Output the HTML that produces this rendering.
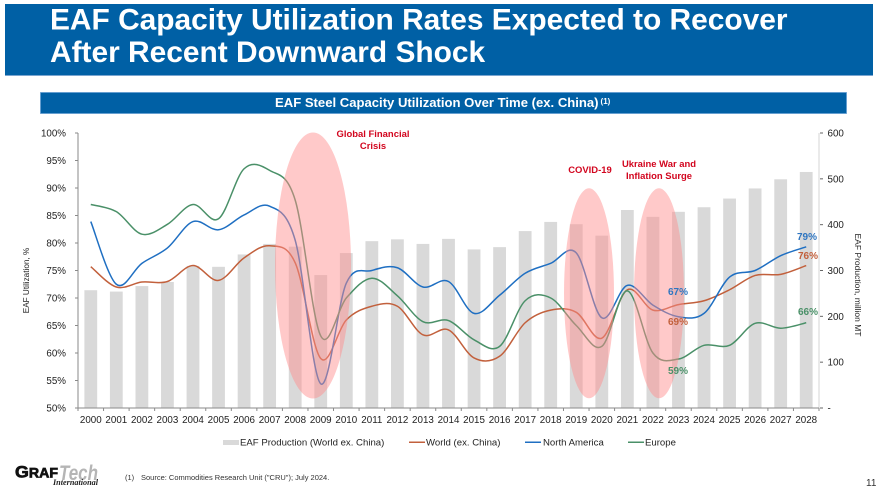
<!DOCTYPE html>
<html lang="en">
<head>
<meta charset="utf-8">
<title>EAF Capacity Utilization Rates</title>
<style>
html,body{margin:0;padding:0;background:#fff;width:876px;height:496px;overflow:hidden}
svg{display:block;font-family:"Liberation Sans",Arial,sans-serif}
</style>
</head>
<body>
<svg id="slide" width="876" height="496" viewBox="0 0 876 496">
  <rect x="5" y="4" width="868" height="71.500" fill="#0060a5"/>
  <rect x="5" y="75" width="868" height="1" fill="#7aa5d0"/>
  <text x="50" y="29.500" font-size="29.9" font-weight="700" fill="#fff">EAF Capacity Utilization Rates Expected to Recover</text>
  <text x="50" y="62" font-size="29.9" font-weight="700" fill="#fff">After Recent Downward Shock</text>
  <rect x="40.500" y="92.500" width="806" height="21" fill="#0060a5" stroke="#5f9bd0" stroke-width="0.8"/>
  <text x="275" y="107" font-size="13.1" font-weight="700" fill="#fff">EAF Steel Capacity Utilization Over Time (ex. China)<tspan font-size="8" dy="-3" dx="2">(1)</tspan></text>

  <g id="bars"></g>
  <g id="lines"></g>
  <g id="axes"></g>

  <ellipse cx="313" cy="265.500" rx="38" ry="133" fill="#ff8f8f" fill-opacity="0.48"/>
  <ellipse cx="589" cy="293.300" rx="25" ry="105" fill="#ff8f8f" fill-opacity="0.48"/>
  <ellipse cx="659" cy="293.300" rx="25" ry="105" fill="#ff8f8f" fill-opacity="0.48"/>

  <g font-size="9.45" font-weight="700" fill="#d2051e" text-anchor="middle">
    <text x="373" y="137">Global Financial</text>
    <text x="373" y="149">Crisis</text>
    <text x="590" y="173">COVID-19</text>
    <text x="659" y="167">Ukraine War and</text>
    <text x="659" y="179">Inflation Surge</text>
  </g>

  <g font-size="10" font-weight="700" text-anchor="middle">
    <text x="807" y="240" fill="#2e75c0">79%</text>
    <text x="808" y="259" fill="#c2603c">76%</text>
    <text x="808" y="315" fill="#4a9068">66%</text>
    <text x="678" y="295" fill="#2e75c0">67%</text>
    <text x="678" y="325" fill="#c2603c">69%</text>
    <text x="678" y="374" fill="#4a9068">59%</text>
  </g>

  <text transform="translate(29,280.500) rotate(-90)" font-size="8.2" text-anchor="middle" fill="#222">EAF Utilization, %</text>
  <text transform="translate(855,285) rotate(90)" font-size="8.5" text-anchor="middle" fill="#222">EAF Production, million MT</text>

  <g font-size="9.6" fill="#222">
    <rect x="223" y="440" width="16" height="5" fill="#d9d9d9"/>
    <text x="240" y="445.500">EAF Production (World ex. China)</text>
    <rect x="409" y="441.500" width="16" height="1.500" fill="#c2603c"/>
    <text x="426" y="445.500">World (ex. China)</text>
    <rect x="525" y="441.500" width="16" height="1.500" fill="#1f6fc2"/>
    <text x="543" y="445.500">North America</text>
    <rect x="628" y="441.500" width="16" height="1.500" fill="#4a9068"/>
    <text x="645" y="445.500">Europe</text>
  </g>

  <g>
    <text x="15" y="477.500" font-size="17" font-weight="700" fill="#111" stroke="#111" stroke-width="0.7" textLength="43" lengthAdjust="spacingAndGlyphs">G<tspan font-size="13.500">RAF</tspan></text>
    <text x="59" y="480" font-size="21" font-style="italic" font-weight="700" fill="#b5b5b5" textLength="39" lengthAdjust="spacingAndGlyphs">Tech</text>
    <text x="53" y="485" font-family="'Liberation Serif',serif" font-size="8" font-style="italic" font-weight="700" fill="#222" textLength="45" lengthAdjust="spacingAndGlyphs">International</text>
  </g>
  <text x="125" y="480" font-size="7.5" fill="#333">(1)</text>
  <text x="141" y="480" font-size="7.5" fill="#333">Source: Commodities Research Unit ("CRU"); July 2024.</text>
  <text x="866" y="486" font-size="10" fill="#333">11</text>
</svg>
<script>
var years = [2000,2001,2002,2003,2004,2005,2006,2007,2008,2009,2010,2011,2012,2013,2014,2015,2016,2017,2018,2019,2020,2021,2022,2023,2024,2025,2026,2027,2028];
var production = [257,254,266,275,310,308,335,358,352,290,338,364,368,358,369,346,351,386,406,401,376,432,417,428,438,457,479,499,515];
var worldValues = [75.7,72,72.9,73,75.9,73.2,77.3,79.5,76.4,59,66,68.5,68.5,63.3,64.2,59.1,59.4,65.5,67.8,67.4,62.7,71.5,67.8,68.8,69.5,71.5,74.1,74.3,75.9];
var northAmericaValues = [83.9,72.5,76.3,79.1,83.9,82.4,85.1,86.7,80.5,54.4,72.7,75,75.5,72,73,67.2,70.5,74.5,76.3,78.2,66.4,72.3,68.7,66.6,67.2,73.8,75,77.7,79.3];
var europeValues = [87,85.7,81.6,83.4,87,84.4,93.5,93.2,87.8,63.1,70,73.6,70.4,65.7,65.9,62.4,61.2,69.5,70,65,61.2,71.3,60,58.9,61.4,61.4,65.4,64.5,65.5];
var leftTicks = [50,55,60,65,70,75,80,85,90,95,100];
var rightTicks = [0,100,200,300,400,500,600];

var NS = 'http://www.w3.org/2000/svg';
var plotLeft = 78, plotRight = 819, plotTop = 133, plotBottom = 408;
var band = (plotRight - plotLeft) / years.length;
function xPos(i){ return plotLeft + band * (i + 0.5); }
function yPct(v){ return plotBottom - (v - 50) / 50 * (plotBottom - plotTop); }
function yProd(v){ return plotBottom - v / 600 * (plotBottom - plotTop); }
function make(tag, attrs, parent){
  var el = document.createElementNS(NS, tag);
  for (var k in attrs) el.setAttribute(k, attrs[k]);
  parent.appendChild(el);
  return el;
}
var barsG = document.getElementById('bars');
var linesG = document.getElementById('lines');
var axesG = document.getElementById('axes');

production.forEach(function(v, i){
  var r = make('rect', {x: xPos(i) - 6.4, y: yProd(v), width: 12.8, height: plotBottom - yProd(v), fill: '#d9d9d9'}, barsG);
  
  
});

function smoothPath(vals){
  var pts = vals.map(function(v, i){ return [xPos(i), yPct(v)]; });
  var d = 'M' + pts[0][0].toFixed(2) + ' ' + pts[0][1].toFixed(2);
  for (var i = 0; i < pts.length - 1; i++){
    var p0 = pts[Math.max(i - 1, 0)], p1 = pts[i], p2 = pts[i + 1], p3 = pts[Math.min(i + 2, pts.length - 1)];
    var c1x = p1[0] + (p2[0] - p0[0]) / 6, c1y = p1[1] + (p2[1] - p0[1]) / 6;
    var c2x = p2[0] - (p3[0] - p1[0]) / 6, c2y = p2[1] - (p3[1] - p1[1]) / 6;
    d += 'C' + c1x.toFixed(2) + ' ' + c1y.toFixed(2) + ' ' + c2x.toFixed(2) + ' ' + c2y.toFixed(2) + ' ' + p2[0].toFixed(2) + ' ' + p2[1].toFixed(2);
  }
  return d;
}
var worldLine = make('path', {d: smoothPath(worldValues), fill: 'none', stroke: '#c2603c', 'stroke-width': 1.5}, linesG);


var naLine = make('path', {d: smoothPath(northAmericaValues), fill: 'none', stroke: '#1f6fc2', 'stroke-width': 1.5}, linesG);


var euLine = make('path', {d: smoothPath(europeValues), fill: 'none', stroke: '#4a9068', 'stroke-width': 1.5}, linesG);



var leftAxis = make('line', {x1: plotLeft, x2: plotLeft, y1: plotTop, y2: plotBottom, stroke: '#8a8a8a', 'stroke-width': 1}, axesG);


var rightAxis = make('line', {x1: plotRight, x2: plotRight, y1: plotTop, y2: plotBottom, stroke: '#d4d4d4', 'stroke-width': 1}, axesG);


var bottomAxis = make('line', {x1: plotLeft, x2: plotRight, y1: plotBottom, y2: plotBottom, stroke: '#8a8a8a', 'stroke-width': 1}, axesG);



leftTicks.forEach(function(t){
  var y = yPct(t);
  var m = make('line', {x1: plotLeft - 3, x2: plotLeft, y1: y, y2: y, stroke: '#8a8a8a'}, axesG);
  
  
  var l = make('text', {x: 66, y: y + 3.5, 'font-size': 9.8, 'text-anchor': 'end', fill: '#222'}, axesG);
  
  
  l.textContent = t + '%';
});
rightTicks.forEach(function(t){
  var y = yProd(t);
  var m = make('line', {x1: plotRight + 1, x2: plotRight + 4, y1: y, y2: y, stroke: '#666'}, axesG);
  
  
  var l = make('text', {x: 827.5, y: y + 3.5, 'font-size': 9.8, fill: '#222'}, axesG);
  
  
  l.textContent = t === 0 ? '-' : String(t);
});
years.forEach(function(yr, i){
  var x0 = plotLeft + band * i;
  var m = make('line', {x1: x0, x2: x0, y1: plotBottom, y2: plotBottom + 3, stroke: '#8a8a8a'}, axesG);
  
  
  var l = make('text', {x: xPos(i), y: 423, 'font-size': 9.8, 'text-anchor': 'middle', fill: '#222'}, axesG);
  
  
  l.textContent = String(yr);
});
var endTick = make('line', {x1: plotRight, x2: plotRight, y1: plotBottom, y2: plotBottom + 3, stroke: '#8a8a8a'}, axesG);


</script>
</body>
</html>
